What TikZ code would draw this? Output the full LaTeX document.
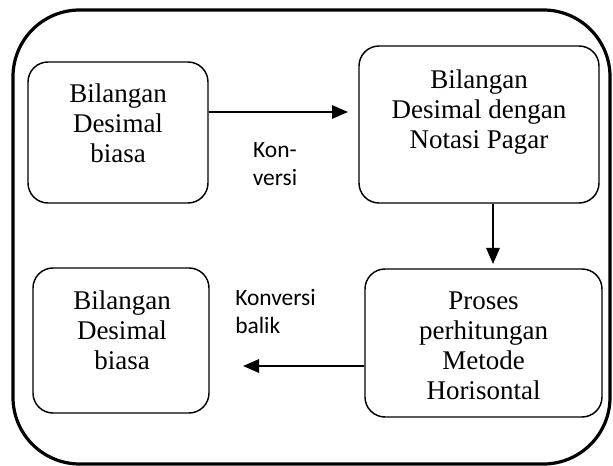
\documentclass[tikz,border=0pt]{standalone}
\usepackage{fontspec}
\setmainfont{Liberation Serif}
\newfontfamily\calibri{Carlito}
\usetikzlibrary{arrows.meta}

\begin{document}
\begin{tikzpicture}[x=0.75pt,y=-0.75pt,>={Triangle[length=12pt,width=10pt]},
  box/.style={draw,line width=1.1pt,rounded corners=15pt,inner sep=0pt},
  txt/.style={inner sep=0pt,align=center,font=\fontsize{20.25}{22.5}\selectfont},
  lbl/.style={inner sep=0pt,font=\calibri\fontsize{17.6}{21.5}\selectfont},
  arr/.style={->,line width=1.5pt}]
 \useasboundingbox (0,0) rectangle (613,466);
 % outer frame
 \node[box,line width=2.4pt,rounded corners=50pt,minimum width=447.75pt,minimum height=340.5pt] (frame) at (311.5,237) {};
 % boxes
 \node[box,minimum width=135pt,minimum height=105.75pt] (biasa) at (118,132.5) {};
 \node[box,minimum width=180pt,minimum height=117.75pt] (pagar) at (479,124.5) {};
 \node[box,minimum width=177.75pt,minimum height=111pt] (proses) at (483.5,343) {};
 \node[box,minimum width=132pt,minimum height=108.75pt] (hasil) at (121,340.5) {};
 % box texts
 \node[txt] (biasatxt) at (118,123.7) {Bilangan\\Desimal\\biasa};
 \node[txt] (pagartxt) at (479,112.2) {Bilangan\\Desimal dengan\\Notasi Pagar};
 \node[txt] (prosestxt) at (483.5,346) {Proses\\perhitungan\\Metode\\Horisontal};
 \node[txt] (hasiltxt) at (122,330.2) {Bilangan\\Desimal\\biasa};
 % arrow ends
 \coordinate (konv) at (348,112);
 \coordinate (turun) at (493,264);
 \coordinate (balikend) at (243,366);
 \draw[arr] (biasa.east |- konv) -- (konv);
 \draw[arr] (pagar.south -| turun) -- (turun);
 \draw[arr] (proses.west |- balikend) -- (balikend);
 % labels
 \node[lbl,align=center] (konvlbl) at (275,164) {Kon-\\versi};
 \node[lbl,align=left,anchor=west] (baliklbl) at (235,311.5) {Konversi\\balik};
\end{tikzpicture}
\end{document}
